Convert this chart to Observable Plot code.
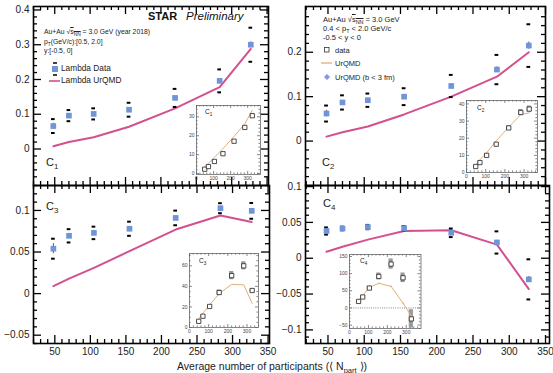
<!DOCTYPE html>
<html><head><meta charset="utf-8">
<script src="https://cdn.jsdelivr.net/npm/d3@7"></script>
<script src="https://cdn.jsdelivr.net/npm/@observablehq/plot@0.6"></script>
<style>
html,body{margin:0;padding:0;background:#fff;}
#c{position:relative;width:553px;height:373px;overflow:hidden;font-family:"Liberation Sans",Arial,Helvetica,sans-serif;color:#222;}
.t{position:absolute;white-space:nowrap;}
.t sub{font-size:0.72em;vertical-align:-0.35em;line-height:0;}
.ov{text-decoration:overline;}
</style></head><body><div id="c"></div>
<script>
// ---------------- data ----------------
const npart = [48, 70, 105, 155, 220, 283, 327];
const xTicks = [50, 100, 150, 200, 250, 300, 350];

const c1Data  = [0.066, 0.096, 0.101, 0.113, 0.147, 0.196, 0.300];
const c1Sys   = [0.020, 0.016, 0.016, 0.020, 0.026, 0.033, 0.049];
const c1Stat  = [0.008, 0.004, 0.004, 0.004, 0.005, 0.006, 0.008];
const c1UrQMD = [0.008, 0.020, 0.034, 0.064, 0.117, 0.178, 0.288];
const c1YTicks = [0, 0.1, 0.2, 0.3, 0.4];

const c2Data  = [0.062, 0.087, 0.092, 0.100, 0.124, 0.161, 0.215];
const c2Sys   = [0.018, 0.016, 0.015, 0.019, 0.025, 0.033, 0.048];
const c2Stat  = [0.007, 0.004, 0.004, 0.004, 0.005, 0.006, 0.008];
const c2UrQMD = [0.010, 0.020, 0.033, 0.060, 0.100, 0.145, 0.200];
const c2YTicks = [0, 0.1, 0.2];

const c3Data  = [0.054, 0.0695, 0.073, 0.078, 0.091, 0.1027, 0.0995];
const c3Sys   = [0.012, 0.008, 0.0075, 0.0085, 0.0088, 0.006, 0.0095];
const c3Stat  = [0.006, 0.003, 0.003, 0.002, 0.002, 0.002, 0.002];
const c3UrQMD = [0.009, 0.018, 0.031, 0.051, 0.077, 0.094, 0.086];
const c3YTicks = [-0.05, 0, 0.05, 0.1];

const c4Data  = [0.038, 0.0415, 0.0435, 0.042, 0.0355, 0.022, -0.0295];
const c4Sys   = [0.005, 0.0025, 0.003, 0.003, 0.006, 0.0155, 0.028];
const c4Stat  = [0.004, 0.002, 0.002, 0.002, 0.002, 0.003, 0.004];
const c4UrQMD = [0.009, 0.016, 0.026, 0.038, 0.039, 0.019, -0.043];
const c4YTicks = [-0.1, -0.05, 0, 0.05, 0.1];

// insets
const inXTicks = [0, 100, 200, 300];
const inC1Data  = [2.3, 3.7, 6.4, 10.5, 17.1, 24.4, 30.6];
const inC1Sys   = [0.3, 0.3, 0.4, 0.5, 0.6, 0.8, 1.0];
const inC1UrQMD = [3.5, 5.5, 8.5, 13.2, 19.6, 26.3, 33.5];
const inC1YTicks = [0, 10, 20, 30];

const inC2Data  = [3.5, 5.8, 10.0, 16.5, 26.0, 35.0, 37.0];
const inC2Sys   = [0.4, 0.4, 0.5, 0.6, 1.2, 1.8, 1.8];
const inC2UrQMD = [4.5, 7.5, 11.5, 18.5, 26.5, 33.8, 34.8];
const inC2YTicks = [0, 10, 20, 30, 40];

const inC3Data  = [6, 11, 20.5, 34, 50.5, 60, 36];
const inC3Sys   = [0.5, 0.6, 1, 2.5, 4, 4, 1.2];
const inC3UrQMD = [8.5, 14, 22, 33, 42, 41.5, 23.5];
const inC3YTicks = [0, 20, 40, 60];

const inC4Data  = [19, 32, 58, 92, 128, 88, -32];
const inC4Sys   = [2, 3, 5, 10, 15, 14, 27];
const inC4UrQMD = [22, 36, 60, 72, 63, 14, -24];
const inC4YTicks = [-50, 0, 50, 100, 150];

// ---------------- styles ----------------
const BLUE = "#7094d8", PINK = "#d3508f", TAN = "#e3ae74";
const FONT = '"Liberation Sans",Arial,Helvetica,sans-serif';
const root = document.getElementById("c");

function put(node, left, top) {
  node.style.position = "absolute";
  node.style.left = left + "px";
  node.style.top = top + "px";
  root.appendChild(node);
}
const fmt = d => d === 0 ? "0" : (d < 0 ? "\u2212" : "") + Math.abs(d);
function minorTicks(lo, hi, step, majorStep) {
  const out = [];
  for (let k = Math.ceil(lo / step - 1e-9); k * step <= hi + 1e-12; k++) {
    const v = +(k * step).toFixed(6);
    if (Math.abs(v / majorStep - Math.round(v / majorStep)) > 1e-6) out.push(v);
  }
  return out;
}
// inward tick marks on all four sides; lengths in pixels converted to data units
function tickMarks(xd, yd, ih, iw, xMaj, xMin, yMaj, yMin, M, m, stroke, sw) {
  const s = {stroke, strokeWidth: sw};
  const ky = (yd[1] - yd[0]) / ih, kx = (xd[1] - xd[0]) / iw;
  const xr = (vals, len) => [
    Plot.ruleX(vals, {x: d => d, y1: yd[0], y2: yd[0] + len * ky, ...s}),
    Plot.ruleX(vals, {x: d => d, y1: yd[1], y2: yd[1] - len * ky, ...s})
  ];
  const yr = (vals, len) => [
    Plot.ruleY(vals, {y: d => d, x1: xd[0], x2: xd[0] + len * kx, ...s}),
    Plot.ruleY(vals, {y: d => d, x1: xd[1], x2: xd[1] - len * kx, ...s})
  ];
  return [...xr(xMaj, M), ...xr(xMin, m), ...yr(yMaj, M), ...yr(yMin, m)];
}

function mainPanel(o) {
  const ih = o.height - o.mt - o.mb, iw = o.width - o.ml - o.mr;
  const rows = npart.map((x, i) => ({x, y: o.vals[i], sys: o.sys[i], stat: o.stat[i], u: o.urqmd[i]}));
  const caps = rows.flatMap(d => [{x: d.x, y: d.y + d.sys}, {x: d.x, y: d.y - d.sys}]);
  const xMaj = xTicks.filter(v => v >= o.xd[0] && v <= o.xd[1]);
  const xMin = minorTicks(o.xd[0], o.xd[1], 10, 50);
  const yMin = minorTicks(o.yd[0], o.yd[1], o.yMinor, o.yStep);
  const marks = [
    ...tickMarks(o.xd, o.yd, ih, iw, xMaj, xMin, o.yTicks, yMin, 8, 4, "#000", 1.3),
    Plot.axisY({ticks: o.yTicks, anchor: "left", tickSize: 0, tickPadding: 4, tickFormat: fmt, fontSize: 10, label: null}),
    Plot.line(rows, {x: "x", y: "u", stroke: PINK, strokeWidth: 2}),
    Plot.ruleX(rows, {x: "x", y1: d => d.y - d.stat, y2: d => d.y + d.stat, stroke: "#555", strokeWidth: 1}),
    Plot.ruleY(caps, {y: "y", x1: d => d.x - 2.6, x2: d => d.x + 2.6, stroke: "#000", strokeWidth: 2}),
    Plot.dot(rows, {x: "x", y: "y", symbol: "square", r: 3.2, fill: BLUE}),
    Plot.frame({stroke: "#000", strokeWidth: 1.6})
  ];
  if (o.showX) marks.push(Plot.axisX({ticks: xMaj, anchor: "bottom", tickSize: 0, tickPadding: 4, fontSize: 10, label: null}));
  const svg = Plot.plot({
    width: o.width, height: o.height,
    marginTop: o.mt, marginRight: o.mr, marginBottom: o.mb, marginLeft: o.ml,
    x: {domain: o.xd, label: null, axis: o.showX ? undefined : null},
    y: {domain: o.yd, label: null},
    style: `background:transparent;overflow:visible;font-family:${FONT};font-size:10px;color:#222;`,
    marks
  });
  put(svg, o.left, o.top);
}

function insetPanel(o) {
  const ih = o.height - o.mt - o.mb, iw = o.width - o.ml - o.mr;
  const rows = npart.map((x, i) => ({x, y: o.vals[i], sys: o.sys[i], u: o.urqmd[i]}));
  const xMin = minorTicks(o.xd[0], o.xd[1], 20, 100);
  const yMin = minorTicks(o.yd[0], o.yd[1], o.yMinor, o.yStep);
  const marks = [
    Plot.frame({fill: "white"}),
    ...tickMarks(o.xd, o.yd, ih, iw, inXTicks, xMin, o.yTicks, yMin, 3, 1.6, "#555", 0.7),
    Plot.axisY({ticks: o.yTicks, anchor: "left", tickSize: 0, tickPadding: 2, fontSize: 5, label: null}),
    Plot.axisX({ticks: inXTicks, anchor: "bottom", tickSize: 0, tickPadding: 2, fontSize: 5, label: null}),
  ];
  if (o.zero) marks.push(Plot.ruleY([0], {stroke: "#555", strokeWidth: 0.7, strokeDasharray: "1,1.2"}));
  marks.push(
    Plot.rect(rows, {x1: d => d.x - 11, x2: d => d.x + 11, y1: d => d.y - d.sys, y2: d => d.y + d.sys, fill: "#9a9a9a"}),
    Plot.line(rows, {x: "x", y: "u", stroke: TAN, strokeWidth: 1})
  );
  if (o.vertexDots) marks.push(Plot.dot(rows, {x: "x", y: "u", r: 0.8, fill: TAN}));
  marks.push(
    Plot.dot(rows, {x: "x", y: "y", symbol: "square", r: 2.4, fill: "white", stroke: "#222", strokeWidth: 0.8}),
    Plot.frame({stroke: "#666", strokeWidth: 0.8})
  );
  const svg = Plot.plot({
    width: o.width, height: o.height,
    marginTop: o.mt, marginRight: o.mr, marginBottom: o.mb, marginLeft: o.ml,
    x: {domain: o.xd, label: null}, y: {domain: o.yd, label: null},
    style: `background:transparent;overflow:visible;font-family:${FONT};font-size:5px;color:#444;`,
    marks
  });
  put(svg, o.left, o.top);
}

// ---------------- main panels ----------------
mainPanel({left: 0, top: 0, width: 280, height: 190, mt: 6, mr: 12, mb: 5, ml: 33,
  xd: [20, 352], yd: [-0.105, 0.41], yTicks: c1YTicks, yStep: 0.1, yMinor: 0.02,
  vals: c1Data, sys: c1Sys, stat: c1Stat, urqmd: c1UrQMD, showX: false});
mainPanel({left: 280, top: 0, width: 273, height: 190, mt: 6, mr: 8, mb: 5, ml: 25,
  xd: [19, 350], yd: [-0.1, 0.303], yTicks: c2YTicks, yStep: 0.1, yMinor: 0.02,
  vals: c2Data, sys: c2Sys, stat: c2Stat, urqmd: c2UrQMD, showX: false});
mainPanel({left: 0, top: 180, width: 280, height: 193, mt: 5, mr: 11, mb: 30, ml: 33,
  xd: [20, 352], yd: [-0.06, 0.13], yTicks: c3YTicks, yStep: 0.05, yMinor: 0.01,
  vals: c3Data, sys: c3Sys, stat: c3Stat, urqmd: c3UrQMD, showX: true});
mainPanel({left: 280, top: 180, width: 273, height: 193, mt: 5, mr: 4, mb: 30, ml: 25,
  xd: [19, 355.5], yd: [-0.119, 0.1015], yTicks: c4YTicks, yStep: 0.05, yMinor: 0.01,
  vals: c4Data, sys: c4Sys, stat: c4Stat, urqmd: c4UrQMD, showX: true});

// ---------------- insets ----------------
insetPanel({left: 180, top: 98, width: 84, height: 88, mt: 7, mr: 4, mb: 12, ml: 16,
  xd: [0, 375], yd: [-0.5, 36], yTicks: inC1YTicks, yStep: 10, yMinor: 2,
  vals: inC1Data, sys: inC1Sys, urqmd: inC1UrQMD});
insetPanel({left: 450, top: 93, width: 91, height: 91, mt: 7, mr: 4, mb: 12, ml: 16,
  xd: [0, 370], yd: [0, 42], yTicks: inC2YTicks, yStep: 10, yMinor: 2,
  vals: inC2Data, sys: inC2Sys, urqmd: inC2UrQMD});
insetPanel({left: 173, top: 246, width: 89, height: 93, mt: 7, mr: 4, mb: 12, ml: 16,
  xd: [0, 360], yd: [0, 72], yTicks: inC3YTicks, yStep: 20, yMinor: 5,
  vals: inC3Data, sys: inC3Sys, urqmd: inC3UrQMD});
insetPanel({left: 333, top: 247, width: 92, height: 93, mt: 7, mr: 4.5, mb: 12, ml: 16,
  xd: [0, 378], yd: [-60, 156], yTicks: inC4YTicks, yStep: 50, yMinor: 10,
  vals: inC4Data, sys: inC4Sys, urqmd: inC4UrQMD, zero: true, vertexDots: true});

// ---------------- text ----------------
function txt(html, x, y, size, style = "") {
  const d = document.createElement("div");
  d.className = "t";
  d.innerHTML = html;
  d.style.cssText = `left:${x}px;top:${y - size * 0.6}px;font-size:${size}px;line-height:${size * 1.2}px;${style}`;
  root.appendChild(d);
}
function icon(x, y, w, h, inner) {
  const d = document.createElement("div");
  d.style.cssText = `position:absolute;left:${x}px;top:${y}px;width:${w}px;height:${h}px;`;
  d.innerHTML = `<svg width="${w}" height="${h}" style="display:block;overflow:visible">${inner}</svg>`;
  root.appendChild(d);
}

txt("STAR", 148, 17, 11, "font-weight:bold;color:#111;");
txt("Preliminary", 186, 17, 11.5, "font-style:italic;color:#111;");
txt('Au+Au &#8730;<span class="ov">s<sub>NN</sub></span> = 3.0 GeV (year 2018)', 44, 32, 6.8);
txt("p<sub>T</sub>(GeV/c):[0.5, 2.0]", 44, 42, 6.8);
txt("y:[-0.5, 0]", 44, 51, 6.8);
icon(50, 62, 10, 14, `<line x1="3" x2="7" y1="1" y2="1" stroke="#000" stroke-width="1.5"/><line x1="3" x2="7" y1="13" y2="13" stroke="#000" stroke-width="1.5"/><rect x="2" y="4" width="6" height="6" fill="${BLUE}"/>`);
txt("Lambda Data", 61, 69, 8.3);
icon(49, 78, 12, 6, `<line x1="0" x2="11" y1="3" y2="3" stroke="${PINK}" stroke-width="1.6"/>`);
txt("Lambda UrQMD", 61, 81, 8.3);
txt("C<sub>1</sub>", 46, 163, 11);

txt('Au+Au &#8730;<span class="ov">s<sub>NN</sub></span> = 3.0 GeV', 323, 19, 7.5);
txt("0.4 &lt; p<sub>T</sub> &lt; 2.0 GeV/c", 323, 28, 7.5);
txt("-0.5 &lt; y &lt; 0", 323, 37, 7.5);
icon(324, 47, 6, 6, `<rect x="0.5" y="0.5" width="4.5" height="4.5" fill="white" stroke="#333" stroke-width="0.8"/>`);
txt("data", 335, 50, 7.5);
icon(321, 60, 12, 6, `<line x1="0" x2="11" y1="3" y2="3" stroke="${TAN}" stroke-width="1.3"/>`);
txt("UrQMD", 335, 63, 7.5);
icon(324, 74, 6, 6, `<path d="M3,0.3 L5.7,3 L3,5.7 L0.3,3 Z" fill="#a9b8ee" stroke="#6d82d6" stroke-width="0.6"/><path d="M3,1 V5 M1,3 H5" stroke="#5a70cc" stroke-width="0.6"/>`);
txt("UrQMD (b &lt; 3 fm)", 335, 77, 7.5);
txt("C<sub>2</sub>", 322, 163, 11);

txt("C<sub>3</sub>", 46, 207, 11);
txt("C<sub>4</sub>", 323, 204, 11);

txt("C<sub>1</sub>", 205, 112, 6.5);
txt("C<sub>2</sub>", 477, 108, 6.5);
txt("C<sub>3</sub>", 199, 261, 6.5);
txt("C<sub>4</sub>", 360, 261, 6.5);

txt("Average number of participants (&#10216; N<sub>part</sub> &#10217;)", 177, 366, 10.5);
</script></body></html>
